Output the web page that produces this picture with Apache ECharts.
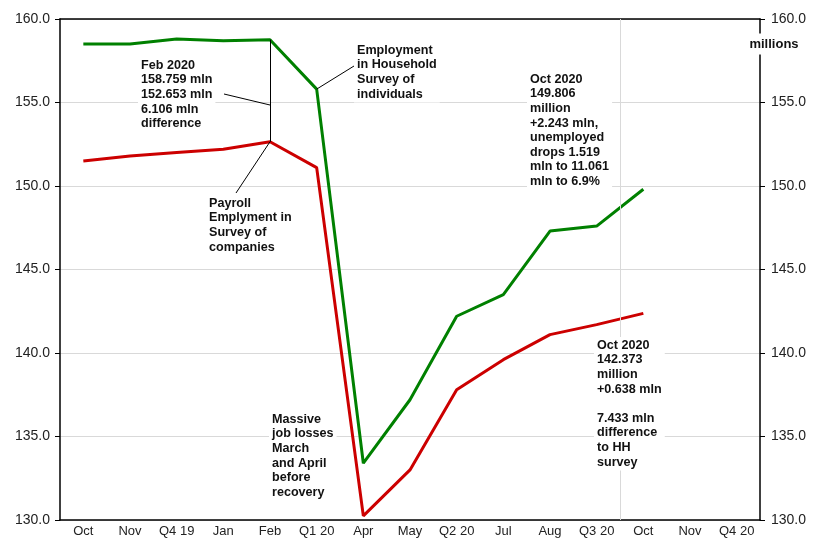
<!DOCTYPE html>
<html>
<head>
<meta charset="utf-8">
<script src="https://cdn.jsdelivr.net/npm/echarts@6/dist/echarts.min.js"></script>
<style>html,body{margin:0;padding:0;background:#fff}#c{width:821px;height:538px}</style>
</head>
<body>
<div id="c"></div>
<script>
const categories = ['Oct','Nov','Q4 19','Jan','Feb','Q1 20','Apr','May','Q2 20','Jul','Aug','Q3 20','Oct','Nov','Q4 20'];
const household = [158.5, 158.5, 158.8, 158.7, 158.759, 155.8, 133.4, 137.2, 142.2, 143.5, 147.3, 147.6, 149.806, null, null];
const payroll   = [151.5, 151.8, 152.0, 152.2, 152.653, 151.1, 130.25, 133.0, 137.8, 139.6, 141.1, 141.7, 142.373, null, null];
const yTicks = [130, 135, 140, 145, 150, 155, 160];

const FONT = '"Liberation Sans", Arial, sans-serif';
const iFeb = categories.indexOf('Feb');
const iMar = categories.indexOf('Q1 20');
const boundary = categories.lastIndexOf('Oct');

function note(lines, x, y) {
  return {
    type: 'text', x: x, y: y, z: 50,
    style: {
      text: lines.join('\n'),
      font: 'bold 12.6px ' + FONT,
      lineHeight: 14.6,
      fill: '#111',
      backgroundColor: '#fff',
      padding: [1, 3]
    }
  };
}

const chart = echarts.init(document.getElementById('c'), null, {renderer: 'canvas'});
const leader = {color: '#000', width: 1, type: 'solid'};
chart.setOption({
  animation: false,
  grid: {left: 60, right: 61, top: 19, bottom: 16, containLabel: false},
  xAxis: [{
    type: 'category', data: categories, position: 'bottom', boundaryGap: true,
    axisLine: {show: true, lineStyle: {color: '#000', width: 1.5}},
    axisTick: {show: false},
    axisLabel: {color: '#222', fontSize: 13, fontFamily: FONT, margin: 5, interval: 0},
    splitLine: {show: false}
  }, {
    type: 'value', position: 'top', min: 0, max: categories.length,
    axisLine: {show: true, onZero: false, lineStyle: {color: '#000', width: 1.5}},
    axisTick: {show: false}, axisLabel: {show: false}, splitLine: {show: false}
  }],
  yAxis: [{
    type: 'value', position: 'left', min: yTicks[0], max: yTicks[yTicks.length - 1], interval: 5,
    axisLine: {show: true, lineStyle: {color: '#000', width: 1.5}},
    axisTick: {show: true, length: 5, lineStyle: {color: '#000'}},
    axisLabel: {color: '#222', fontSize: 14, fontFamily: FONT, margin: 10, formatter: v => v.toFixed(1)},
    splitLine: {show: true, lineStyle: {color: '#d9d9d9', width: 1}}
  }, {
    type: 'value', position: 'right', min: yTicks[0], max: yTicks[yTicks.length - 1], interval: 5,
    axisLine: {show: true, lineStyle: {color: '#000', width: 1.5}},
    axisTick: {show: true, length: 5, lineStyle: {color: '#000'}},
    axisLabel: {color: '#222', fontSize: 14, fontFamily: FONT, margin: 11, formatter: v => v.toFixed(1)},
    splitLine: {show: false}
  }],
  series: [{
    name: 'ref', type: 'line', xAxisIndex: 1, yAxisIndex: 0, data: [], silent: true,
    markLine: {
      silent: true, symbol: ['none', 'none'], label: {show: false},
      lineStyle: {color: '#d9d9d9', width: 1, type: 'solid'},
      data: [{xAxis: boundary}]
    }
  }, {
    name: 'Household', type: 'line', data: household, xAxisIndex: 0, yAxisIndex: 0,
    showSymbol: false, symbol: 'none', connectNulls: false,
    lineStyle: {color: '#008000', width: 3}, itemStyle: {color: '#008000'}, z: 4,
    markLine: {
      silent: true, symbol: ['none', 'none'], label: {show: false}, lineStyle: leader,
      data: [
        [{coord: [iFeb, household[iFeb]]}, {coord: [iFeb, payroll[iFeb]]}],
        [{x: 224, y: 94}, {coord: [iFeb, 154.85]}],
        [{x: 354, y: 66}, {coord: [iMar, household[iMar]]}]
      ]
    }
  }, {
    name: 'Payroll', type: 'line', data: payroll, xAxisIndex: 0, yAxisIndex: 0,
    showSymbol: false, symbol: 'none', connectNulls: false,
    lineStyle: {color: '#cc0000', width: 3}, itemStyle: {color: '#cc0000'}, z: 3,
    markLine: {
      silent: true, symbol: ['none', 'none'], label: {show: false}, lineStyle: leader,
      data: [
        [{x: 236, y: 193}, {coord: [iFeb, payroll[iFeb]]}]
      ]
    }
  }],
  graphic: [
    note(['Feb 2020', '158.759 mln', '152.653 mln', '6.106 mln', 'difference'], 138, 57),
    note(['Employment', 'in Household', 'Survey of', 'individuals'], 354, 42),
    note(['Payroll', 'Emplyment in', 'Survey of', 'companies'], 206, 195),
    note(['Oct 2020', '149.806', 'million', '+2.243 mln,', 'unemployed', 'drops 1.519', 'mln to 11.061', 'mln to 6.9%'], 527, 71),
    note(['Massive', 'job losses', 'March', 'and April', 'before', 'recovery'], 269, 411),
    note(['Oct 2020', '142.373', 'million', '+0.638 mln', '', '7.433 mln', 'difference', 'to HH', 'survey'], 594, 337),
    {
      type: 'text', x: 774, y: 44, z: 50,
      style: {
        text: 'millions', font: 'bold 13px ' + FONT, fill: '#111',
        align: 'center', verticalAlign: 'middle',
        backgroundColor: '#fff', padding: [4, 2]
      }
    }
  ]
});
</script>
</body>
</html>
